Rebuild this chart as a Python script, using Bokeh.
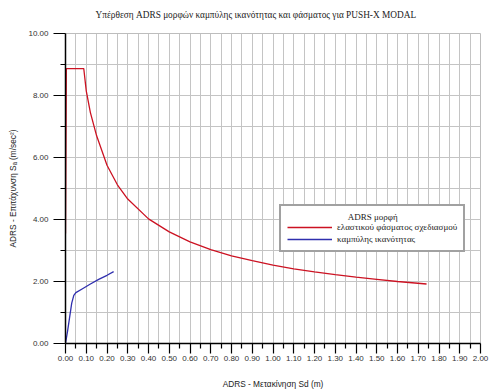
from bokeh.plotting import figure
from bokeh.models import Legend, LegendItem, FixedTicker, PrintfTickFormatter, Range1d, Title
from bokeh.embed import file_html
from bokeh.resources import INLINE

title_text = "Υπέρθεση ADRS μορφών καμπύλης ικανότητας και φάσματος για PUSH-X MODAL"
x_title = "ADRS - Μετακίνηση Sd (m)"
y_title = "ADRS - Επιτάχυνση Sₐ (m/sec²)"
legend_title = "ADRS μορφή"
spectrum_name = "ελαστικού φάσματος σχεδιασμού"
capacity_name = "καμπύλης ικανότητας"

# elastic design spectrum in ADRS form (Sd [m], Sa [m/s2])
spectrum_sd = [0.0, 0.004, 0.088, 0.10, 0.12, 0.15, 0.20, 0.25, 0.30, 0.40, 0.50, 0.60,
               0.70, 0.80, 0.90, 1.00, 1.10, 1.20, 1.30, 1.40, 1.50, 1.60, 1.74]
spectrum_sa = [3.55, 8.87, 8.87, 8.15, 7.45, 6.70, 5.75, 5.12, 4.66, 4.02, 3.60, 3.28,
               3.03, 2.83, 2.67, 2.53, 2.41, 2.31, 2.22, 2.14, 2.07, 2.00, 1.92]

# capacity curve
capacity_sd = [0.0, 0.01, 0.02, 0.03, 0.04, 0.05, 0.08, 0.12, 0.16, 0.20, 0.232]
capacity_sa = [0.0, 0.40, 0.85, 1.30, 1.55, 1.64, 1.76, 1.92, 2.07, 2.20, 2.32]

x_major_ticks = [0.0, 0.1, 0.2, 0.3, 0.4, 0.5, 0.6, 0.7, 0.8, 0.9, 1.0,
                 1.1, 1.2, 1.3, 1.4, 1.5, 1.6, 1.7, 1.8, 1.9, 2.0]
x_minor_ticks = [0.05, 0.15, 0.25, 0.35, 0.45, 0.55, 0.65, 0.75, 0.85, 0.95,
                 1.05, 1.15, 1.25, 1.35, 1.45, 1.55, 1.65, 1.75, 1.85, 1.95]
y_major_ticks = [0, 2, 4, 6, 8, 10]
y_minor_ticks = [1, 3, 5, 7, 9]

RED = "#cc1222"
BLUE = "#2f2fae"
GRID = "#c4c4c4"
SANS = "Liberation Sans"
SERIF = "Liberation Serif"

p = figure(width=493, height=392, output_backend="svg", toolbar_location=None,
           x_range=Range1d(0, 2), y_range=Range1d(0, 10),
           min_border_left=65, min_border_right=13, min_border_top=33, min_border_bottom=49)
p.title = None
# spacer nearest the frame, then the real title above it
p.add_layout(Title(text="\u00a0", text_font_size="11px", standoff=0), "above")
p.add_layout(Title(text=title_text, text_font=SERIF, text_font_size="9.3px",
                   text_font_style="normal", text_color="#222222",
                   align="left", offset=30, standoff=0), "above")
p.outline_line_color = "#bdbdbd"
p.background_fill_color = "white"
p.border_fill_color = "white"

p.xaxis.ticker = FixedTicker(ticks=x_major_ticks, minor_ticks=x_minor_ticks)
p.yaxis.ticker = FixedTicker(ticks=y_major_ticks, minor_ticks=y_minor_ticks)
p.xaxis.formatter = PrintfTickFormatter(format="%.2f")
p.yaxis.formatter = PrintfTickFormatter(format="%.2f")
for ax in (p.xaxis, p.yaxis):
    ax.axis_line_color = "black"
    ax.axis_line_width = 1.5
    ax.major_tick_line_color = "black"
    ax.minor_tick_line_color = "black"
    ax.major_tick_line_width = 1.2
    ax.minor_tick_line_width = 1.2
    ax.major_tick_in = 0
    ax.minor_tick_in = 0
    ax.minor_tick_out = 5
    ax.major_label_text_font = SANS
    ax.major_label_text_font_size = "8px"
    ax.major_label_text_color = "#333333"
    ax.axis_label_text_font = SANS
    ax.axis_label_text_font_size = "8.3px"
    ax.axis_label_text_font_style = "normal"
    ax.axis_label_text_color = "#222222"
p.xaxis.axis_label = x_title
p.yaxis.axis_label = y_title
p.xaxis.major_tick_out = 10
p.yaxis.major_tick_out = 12
p.xaxis.major_label_standoff = 2
p.yaxis.major_label_standoff = 5
p.xaxis.axis_label_standoff = 15
p.yaxis.axis_label_standoff = 7

for g in (p.xgrid, p.ygrid):
    g.grid_line_color = GRID
    g.grid_line_width = 1
    g.minor_grid_line_color = GRID
    g.minor_grid_line_width = 1

r_spec = p.line(spectrum_sd, spectrum_sa, line_color=RED, line_width=1.3)
r_cap = p.line(capacity_sd, capacity_sa, line_color=BLUE, line_width=1.3)

legend = Legend(items=[LegendItem(label=spectrum_name, renderers=[r_spec]),
                       LegendItem(label=capacity_name, renderers=[r_cap])],
                location=(214, 91), margin=0, padding=6, spacing=2,
                title="\u00a0" * 27 + legend_title, title_standoff=0,
                glyph_width=45, glyph_height=10, label_height=10, label_standoff=5,
                border_line_color="#444444", border_line_width=2,
                background_fill_color="white", background_fill_alpha=1)
legend.label_text_font = SERIF
legend.label_text_font_size = "9px"
legend.label_text_color = "#222222"
legend.title_text_font = SERIF
legend.title_text_font_size = "9px"
legend.title_text_font_style = "normal"
legend.title_text_color = "#222222"
p.add_layout(legend, "center")

open("out.html", "w").write(file_html(p, INLINE))
